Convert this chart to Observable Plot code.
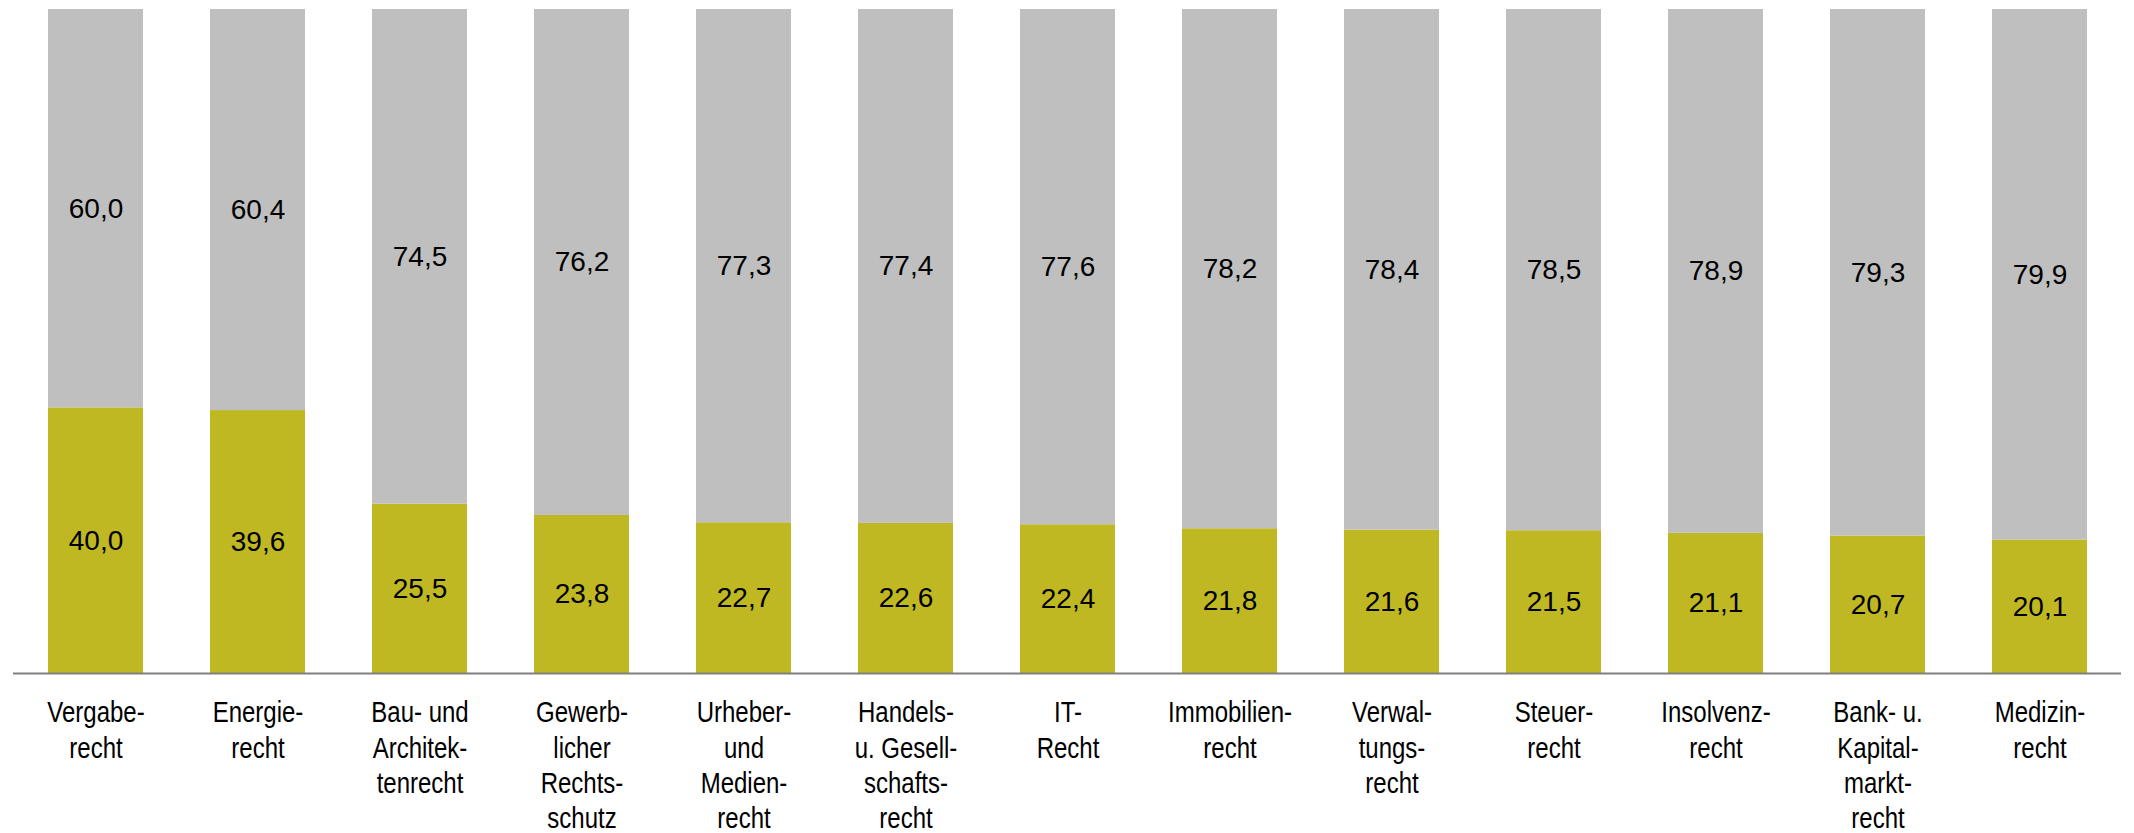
<!DOCTYPE html>
<html>
<head>
<meta charset="utf-8">
<script src="https://cdn.jsdelivr.net/npm/d3@7"></script>
<script src="https://cdn.jsdelivr.net/npm/@observablehq/plot@0.6"></script>
<style>
  html, body { margin: 0; padding: 0; background: #fff; }
  #chart svg { display: block; }
</style>
</head>
<body>
<div id="chart"></div>
<script>
const categories = [
  "Vergabe-\nrecht",
  "Energie-\nrecht",
  "Bau- und\nArchitek-\ntenrecht",
  "Gewerb-\nlicher\nRechts-\nschutz",
  "Urheber-\nund\nMedien-\nrecht",
  "Handels-\nu. Gesell-\nschafts-\nrecht",
  "IT-\nRecht",
  "Immobilien-\nrecht",
  "Verwal-\ntungs-\nrecht",
  "Steuer-\nrecht",
  "Insolvenz-\nrecht",
  "Bank- u.\nKapital-\nmarkt-\nrecht",
  "Medizin-\nrecht"
];
const seriesNames = ["unten", "oben"];
const seriesColors = ["#bfb823", "#bfbfbf"];
const bottomValues = [40.0, 39.6, 25.5, 23.8, 22.7, 22.6, 22.4, 21.8, 21.6, 21.5, 21.1, 20.7, 20.1];
const topValues    = [60.0, 60.4, 74.5, 76.2, 77.3, 77.4, 77.6, 78.2, 78.4, 78.5, 78.9, 79.3, 79.9];

const rows = [];
categories.forEach((c, i) => rows.push({cat: c, series: seriesNames[0], value: bottomValues[i]}));
categories.forEach((c, i) => rows.push({cat: c, series: seriesNames[1], value: topValues[i]}));

const fmt = v => d3.format(".1f")(v).replace(".", ",");

const chart = Plot.plot({
  width: 2134,
  height: 833,
  marginTop: 9,
  marginBottom: 160,
  marginLeft: 13,
  marginRight: 13,
  x: {domain: categories, paddingInner: 0.414, paddingOuter: 0.207, label: null},
  y: {domain: [0, 100], axis: null},
  color: {domain: seriesNames, range: seriesColors},
  marks: [
    Plot.barY(rows, {x: "cat", y: "value", fill: "series", order: seriesNames}),
    Plot.text(rows, Plot.stackY({
      x: "cat", y: "value", z: "series", order: seriesNames,
      text: d => fmt(d.value),
      fill: "#000", fontSize: 28,
      fontFamily: "'Liberation Sans', Arial, sans-serif"
    })),
    Plot.ruleY([0], {stroke: "#808080", strokeWidth: 2}),
    Plot.axisX({
      tickSize: 0, tickPadding: 24, label: null,
      fontSize: 30, lineHeight: 1.17,
      fontFamily: "'Liberation Sans Narrow', 'Arial Narrow', 'Liberation Sans', sans-serif",
      fill: "#000"
    })
  ]
});
document.getElementById("chart").appendChild(chart);
// condense the category labels horizontally (narrow face not installed)
chart.querySelectorAll('g[aria-label="x-axis tick label"] text').forEach(t => {
  const tr = t.getAttribute("transform") || "";
  t.setAttribute("transform", tr + " scale(0.8,1)");
});
</script>
</body>
</html>
